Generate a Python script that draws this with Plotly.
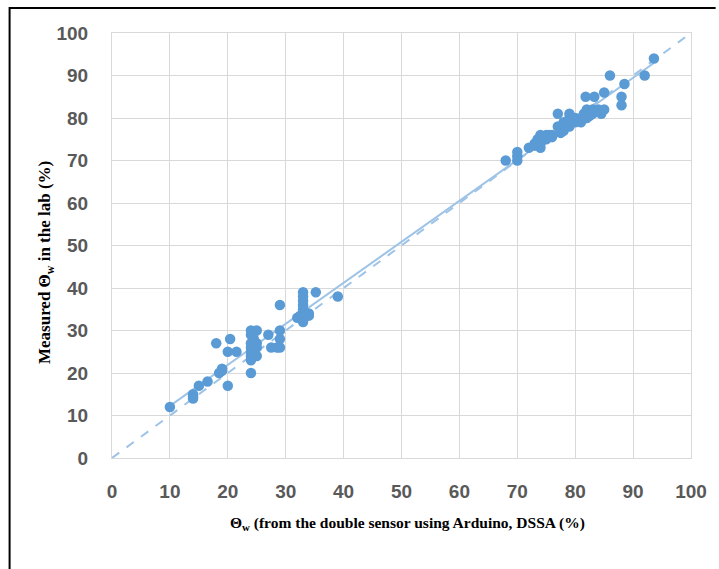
import numpy as np
import plotly.graph_objects as go

# DSSA readings (x) vs lab-measured water content (y), %
dssa_x = [10, 14, 14, 14, 15, 16.5, 18, 18.5, 19, 19, 20, 20.4, 20, 21.5,
          24, 24, 24, 24.5, 24, 24.5, 24, 25, 24, 24.5, 24, 24, 25, 25, 25,
          27, 27.5, 28.5, 29, 29, 29, 29,
          32, 32.5, 33, 33, 33, 33, 33, 33, 33, 33, 34, 34, 35.2, 39,
          68, 70, 70, 70, 72, 73, 73, 73.5, 74, 74, 74, 74.5, 75, 75, 75.5, 76, 76,
          77, 79, 77, 77.5, 78, 78, 79, 79, 80, 80, 81, 81, 81.5, 82, 82, 82.5,
          83, 83.5, 83, 84, 84.5, 85, 81.8, 83.3, 85, 86, 88, 88, 88.5, 92, 93.6]
lab_y = [12, 14, 15, 14.5, 17, 18, 27, 20, 21, 20.5, 17, 28, 25, 25,
         20, 23, 24, 24, 25, 25, 26, 26, 27, 28, 29, 30, 30, 27, 24,
         29, 26, 26, 26, 28, 30, 36,
         33, 33.5, 33, 34, 35, 36, 37, 38, 39, 32, 34, 33.5, 39, 38,
         70, 72, 70, 71, 73, 73.5, 74, 75, 73, 74, 76, 75, 76, 75, 76, 75.5, 76,
         81, 81, 78, 76.5, 77, 79, 78, 80, 79, 80, 79, 80, 81, 80, 82, 80.5,
         81, 81.5, 82, 82, 81, 82, 85, 85, 86, 90, 83, 85, 88, 90, 94]

x_ticks = list(range(0, 101, 10))
y_ticks = list(range(0, 101, 10))

xa = np.array(dssa_x)
ya = np.array(lab_y)
slope, intercept = np.polyfit(xa, ya, 1)
tx = np.array([xa.min(), xa.max()])
ty = slope * tx + intercept

fig = go.Figure()
fig.add_trace(go.Scatter(x=[0, 100], y=[0, 100], mode="lines",
                         line=dict(color="#9DC3E6", width=2, dash="dash"),
                         hoverinfo="skip", showlegend=False))
fig.add_trace(go.Scatter(x=tx, y=ty, mode="lines",
                         line=dict(color="#9DC3E6", width=2),
                         hoverinfo="skip", showlegend=False))
fig.add_trace(go.Scatter(x=dssa_x, y=lab_y, mode="markers",
                         marker=dict(color="#5B9BD5", size=10.5),
                         showlegend=False))

W, H = 719, 569
L, T, R, B = 112, 33, 19, 111
pw, ph = W - L - R, H - T - B

def px(xp):
    return (xp - L) / pw

def py(yp):
    return (H - B - yp) / ph

tickfont = dict(family="Liberation Sans", size=19, color="#595959", weight="bold")
fig.update_xaxes(range=[0, 100], tickvals=x_ticks, ticktext=[str(v) for v in x_ticks],
                 showgrid=True, gridcolor="#D9D9D9", gridwidth=1,
                 zeroline=False, showline=True, linecolor="#D9D9D9", mirror=True,
                 ticks="", tickfont=tickfont, ticklabelstandoff=16)
fig.update_yaxes(range=[0, 100], tickvals=y_ticks, ticktext=[str(v) for v in y_ticks],
                 showgrid=True, gridcolor="#D9D9D9", gridwidth=1,
                 zeroline=False, showline=True, linecolor="#D9D9D9", mirror=True,
                 ticks="", tickfont=tickfont, ticklabelstandoff=19)

xtitlefont = dict(family="Liberation Serif", size=15.5, color="black", weight="bold")
ytitlefont = dict(family="Liberation Serif", size=17, color="black", weight="bold")
fig.add_annotation(text="Θ<sub>w</sub> (from the double sensor using Arduino, DSSA (%)",
                   xref="paper", yref="paper", x=px(412), y=py(523),
                   showarrow=False, font=xtitlefont, xanchor="center", yanchor="middle")
fig.add_annotation(text="Measured Θ<sub>w</sub> in the lab (%)",
                   xref="paper", yref="paper", x=px(45), y=py(263),
                   showarrow=False, font=ytitlefont, textangle=-90,
                   xanchor="center", yanchor="middle")

# outer frame (left and top edges)
fig.add_shape(type="path", xref="paper", yref="paper",
              path=f"M {px(8)} {py(575)} L {px(8)} {py(8)} L {px(725)} {py(8)}",
              line=dict(color="black", width=2))

fig.update_layout(width=W, height=H, margin=dict(l=L, r=R, t=T, b=B),
                  paper_bgcolor="white", plot_bgcolor="white")

fig.write_html("out.html",
               config={"displayModeBar": False},
               post_script="document.body.style.margin='0px';"
                           "document.body.style.overflow='hidden';")
